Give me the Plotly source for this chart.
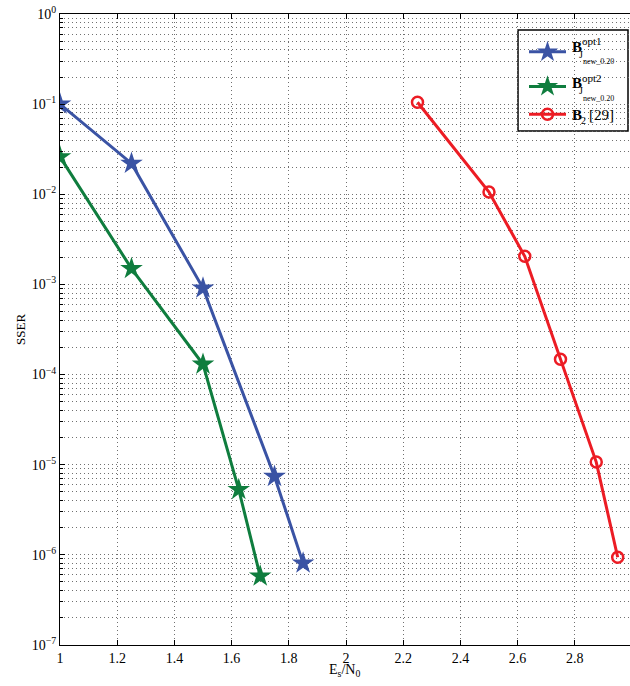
import plotly.graph_objects as go

# ---- data ----
x_opt1 = [1.0, 1.25, 1.5, 1.75, 1.85]
y_opt1 = [0.1, 2.2e-2, 9.1e-4, 7.4e-6, 8.1e-7]

x_opt2 = [1.0, 1.25, 1.5, 1.625, 1.7]
y_opt2 = [2.6e-2, 1.5e-3, 1.3e-4, 5.3e-6, 5.8e-7]

x_b2 = [2.25, 2.5, 2.625, 2.75, 2.875, 2.95]
y_b2 = [0.105, 1.06e-2, 2.05e-3, 1.48e-4, 1.07e-5, 9.4e-7]

x_ticks = [1, 1.2, 1.4, 1.6, 1.8, 2, 2.2, 2.4, 2.6, 2.8]
x_ticklabels = ["1", "1.2", "1.4", "1.6", "1.8", "2", "2.2", "2.4", "2.6", "2.8"]
y_exponents = [0, -1, -2, -3, -4, -5, -6, -7]

BLUE = "#3a53a4"
GREEN = "#0f7d3e"
RED = "#ec1c24"
FONT = "Liberation Serif"
GRID = "#707070"
DOTS = "1px,3px"

y_tickvals = [10.0 ** e for e in y_exponents]
y_ticktext = ["10<sup>%s</sup>" % (str(e).replace("-", "\u2212")) for e in y_exponents]
y_minor = [m * 10.0 ** e for e in range(-7, 0) for m in range(2, 10)]

fig = go.Figure()
fig.add_trace(go.Scatter(
    x=x_opt1, y=y_opt1, mode="lines+markers", name="\u00a0\u00a0",
    legendgroup="a",
    line=dict(color=BLUE, width=3),
    marker=dict(symbol="star", size=17, color=BLUE, line=dict(width=0)),
))
fig.add_trace(go.Scatter(
    x=x_opt2, y=y_opt2, mode="lines+markers", name="\u00a0\u00a0",
    legendgroup="b",
    line=dict(color=GREEN, width=3),
    marker=dict(symbol="star", size=17, color=GREEN, line=dict(width=0)),
))
fig.add_trace(go.Scatter(
    x=x_b2, y=y_b2, mode="lines+markers", name="\u00a0\u00a0",
    legendgroup="b",
    line=dict(color=RED, width=3),
    marker=dict(symbol="circle-open", size=11, color=RED, line=dict(width=2.5, color=RED)),
))

# plot area in page pixels
RL, RT, W, H = 60, 14, 570, 631
FW, FH = 630, 686


def px(x):
    return (x - RL) / W


def py(y):
    return (RT + H - y) / H


annotations = []


def txt(text, x, y, size, bold=False):
    if bold:
        text = "<b>%s</b>" % text
    annotations.append(dict(
        text=text, x=px(x), y=py(y), xref="paper", yref="paper",
        xanchor="left", yanchor="middle", showarrow=False,
        font=dict(family=FONT, size=size, color="black"),
    ))


# legend labels
txt("B", 570, 47, 15, bold=True)
txt("opt1", 580, 41.5, 11)
txt("J", 577, 54.5, 10)
txt("new_0.20", 581, 61.5, 8)
txt("B", 570, 83, 15, bold=True)
txt("opt2", 580, 77.5, 11)
txt("J", 577, 90.5, 10)
txt("new_0.20", 581, 98.5, 8)
txt("B", 570, 115.5, 15, bold=True)
txt("2", 579, 121, 10)
txt("[29]", 587, 115, 15)

# axis titles
annotations.append(dict(
    text="E<sub>s</sub>/N<sub>0</sub>", x=px(344), y=py(670), xref="paper", yref="paper",
    xanchor="center", yanchor="middle", showarrow=False,
    font=dict(family=FONT, size=14, color="black"),
))
annotations.append(dict(
    text="SSER", x=px(20), y=py(330), xref="paper", yref="paper",
    xanchor="center", yanchor="middle", showarrow=False, textangle=-90,
    font=dict(family=FONT, size=13, color="black"),
))

# legend frame
shapes = [dict(
    type="rect", xref="paper", yref="paper",
    x0=px(518), x1=px(628), y0=py(131), y1=py(30),
    line=dict(color="black", width=1.5), fillcolor="white", layer="between",
)]

fig.update_layout(
    width=FW, height=FH,
    margin=dict(l=RL, r=FW - RL - W, t=RT, b=FH - RT - H, pad=0),
    paper_bgcolor="white", plot_bgcolor="white",
    font=dict(family=FONT, size=14, color="black"),
    showlegend=True,
    legend=dict(
        x=px(524), y=py(33), xanchor="left", yanchor="top",
        borderwidth=0, bgcolor="rgba(0,0,0,0)",
        font=dict(size=19), tracegroupgap=7, itemwidth=37,
        traceorder="grouped",
    ),
    annotations=annotations,
    shapes=shapes,
    xaxis=dict(
        range=[1, 2.993], tickmode="array", tickvals=x_ticks, ticktext=x_ticklabels,
        ticks="inside", ticklen=5, tickcolor="black", tickwidth=1,
        showline=True, linecolor="black", linewidth=1, mirror="ticks",
        showgrid=True, gridcolor=GRID, griddash=DOTS, gridwidth=1,
        zeroline=False, tickfont=dict(family=FONT, size=14), automargin=False,
        ticklabeloverflow="allow",
    ),
    yaxis=dict(
        type="log", range=[-7, 0], tickmode="array", tickvals=y_tickvals, ticktext=y_ticktext,
        ticks="inside", ticklen=5, tickcolor="black", tickwidth=1,
        showline=True, linecolor="black", linewidth=1, mirror=False,
        showgrid=True, gridcolor=GRID, griddash=DOTS, gridwidth=1,
        zeroline=False, tickfont=dict(family=FONT, size=14), automargin=False,
        ticklabeloverflow="allow",
        minor=dict(tickmode="array", tickvals=y_minor, ticks="inside", ticklen=3,
                   tickcolor="black", showgrid=True, gridcolor=GRID,
                   griddash=DOTS, gridwidth=1),
    ),
    yaxis2=dict(
        type="log", range=[-7, 0], overlaying="y", side="right", anchor="x",
        tickmode="array", tickvals=y_tickvals, showticklabels=False,
        ticks="inside", ticklen=5, tickcolor="black", tickwidth=1,
        showline=False, showgrid=False, zeroline=False, automargin=False,
        minor=dict(tickmode="array", tickvals=y_minor, ticks="inside", ticklen=3,
                   tickcolor="black", showgrid=False),
    ),
)

fig.write_html(
    "out.html",
    config={"displayModeBar": False},
    post_script="document.body.style.margin='0px';document.body.style.overflow='hidden';",
)
